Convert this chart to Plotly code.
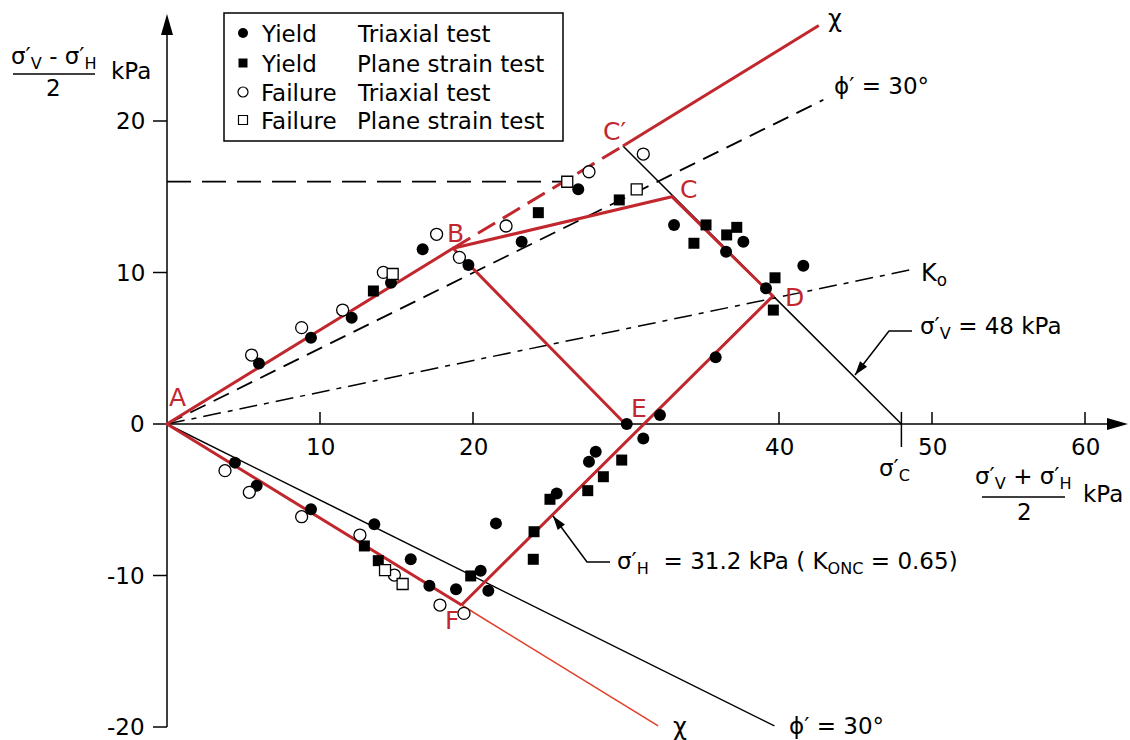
import plotly.graph_objects as go

# ---------------- data (kPa) ----------------
# Yield, triaxial test (filled circles): p' = (s'v+s'h)/2, q = (s'v-s'h)/2
tri_yield_p = [6.01, 9.41, 12.07, 14.64, 16.71, 19.70, 23.18, 26.88, 33.14, 37.67, 36.54, 39.15,
               41.59, 35.86, 32.22, 30.05, 31.13, 28.02, 27.58, 25.47, 21.50, 20.50, 21.00, 18.89,
               17.15, 15.93, 13.55, 9.41, 5.86, 4.44]
tri_yield_q = [4.00, 5.70, 7.02, 9.33, 11.53, 10.50, 12.03, 15.49, 13.14, 12.03, 11.37, 8.96,
               10.45, 4.40, 0.59, 0.00, -0.95, -1.83, -2.49, -4.58, -6.56, -9.68, -11.00, -10.91,
               -10.67, -8.93, -6.62, -5.63, -4.07, -2.55]
# Yield, plane strain test (filled squares)
ps_yield_p = [13.49, 24.27, 29.56, 35.23, 34.44, 37.24, 36.58, 39.74, 39.63, 29.72, 28.52, 27.50,
              25.03, 23.99, 23.94, 19.85, 12.90, 13.81]
ps_yield_q = [8.78, 13.95, 14.79, 13.14, 11.93, 12.98, 12.48, 9.65, 7.52, -2.38, -3.48, -4.40,
              -4.97, -7.11, -8.93, -10.03, -8.05, -9.02]
# Failure, triaxial test (open circles)
tri_fail_p = [5.53, 8.80, 11.48, 14.14, 17.62, 19.11, 22.16, 27.58, 31.13, 3.79, 5.38, 8.80,
              12.61, 14.86, 17.84, 19.41]
tri_fail_q = [4.55, 6.36, 7.52, 10.01, 12.52, 11.00, 13.07, 16.65, 17.82, -3.08, -4.51, -6.12,
              -7.33, -9.97, -11.95, -12.50]
# Failure, plane strain test (open squares)
ps_fail_p = [14.75, 26.16, 30.70, 14.25, 15.40]
ps_fail_q = [9.90, 15.99, 15.49, -9.64, -10.56]

legend_kind = ["Yield", "Yield", "Failure", "Failure"]
legend_test = ["Triaxial test", "Plane strain test", "Triaxial test", "Plane strain test"]

# key points of the yield locus / stress paths
pt_A = (0.0, 0.0)
pt_B = (18.7, 11.6)
pt_C = (33.0, 15.0)
pt_Cp = (29.8, 18.35)
pt_D = (39.6, 8.45)
pt_E = (29.95, 0.0)
pt_F = (19.25, -11.95)
chi_top_end = (42.6, 26.3)
chi_bot_end = (32.1, -19.93)
phi_top_end = (42.9, 21.4)
phi_bot_end = (39.7, -19.93)
k0_end = (48.7, 10.2)
sigma_c = 48.0
q_horiz = 16.0
q_horiz_end_p = 26.2

x_tick_vals = [10, 20, 40, 50, 60]
y_tick_vals = [20, 10, 0, -10, -20]

# ---------------- layout helpers ----------------
W, H = 1130, 740
X0PX, SX = 167.0, 15.3
Y0PX, SY = 424.0, 15.15


def dx(px):
    return (px - X0PX) / SX


def dy(py):
    return (Y0PX - py) / SY


def tx(x):
    return X0PX + x * SX


def ty(y):
    return Y0PX - y * SY


RED = "#c1272d"
RED2 = "#e2412c"
FONT = "DejaVu Sans"

fig = go.Figure()


def line(pts, color="black", width=1.5, dash=None):
    fig.add_trace(go.Scatter(x=[p[0] for p in pts], y=[p[1] for p in pts], mode="lines",
                             line=dict(color=color, width=width, dash=dash),
                             showlegend=False, hoverinfo="skip"))


# black reference lines
line([pt_A, phi_top_end], width=1.8, dash="17px,9px")
line([pt_A, k0_end], dash="18px,7px,5px,7px")
line([(0, q_horiz), (q_horiz_end_p, q_horiz)], width=1.7, dash="24px,11px")
line([pt_A, phi_bot_end])
line([pt_Cp, (sigma_c, 0)])

# red yield locus and paths
line([pt_F, chi_bot_end], color=RED2, width=1.6)
line([pt_F, pt_A, pt_B, pt_C, pt_D, pt_F], color=RED, width=3)
line([pt_B, pt_E], color=RED, width=3)
line([pt_Cp, chi_top_end], color=RED, width=3)
line([pt_B, pt_Cp], color=RED, width=3, dash="20px,9px")

mk_styles = [
    dict(symbol="circle", size=12, color="black"),
    dict(symbol="square", size=11, color="black"),
    dict(symbol="circle", size=12, color="white", line=dict(color="black", width=1.3)),
    dict(symbol="square", size=11, color="white", line=dict(color="black", width=1.3)),
]
series = [(tri_yield_p, tri_yield_q), (ps_yield_p, ps_yield_q),
          (tri_fail_p, tri_fail_q), (ps_fail_p, ps_fail_q)]
for (xs, ys), st, k, t in zip(series, mk_styles, legend_kind, legend_test):
    fig.add_trace(go.Scatter(x=xs, y=ys, mode="markers", name=f"{k} {t}", marker=st,
                             showlegend=False))

shapes = []
anns = []


def seg(x0, y0, x1, y1, width=1.5, color="black"):
    shapes.append(dict(type="line", xref="x", yref="y", x0=x0, y0=y0, x1=x1, y1=y1,
                       line=dict(color=color, width=width), layer="below"))


def tri_px(tip, frm, length, half):
    ux, uy = tip[0] - frm[0], tip[1] - frm[1]
    n = (ux ** 2 + uy ** 2) ** 0.5
    ux, uy = ux / n, uy / n
    bx, by = tip[0] - length * ux, tip[1] - length * uy
    nx, ny = -uy, ux
    pts = [tip, (bx + half * nx, by + half * ny), (bx - half * nx, by - half * ny)]
    path = "M " + " L ".join(f"{dx(p[0]):.4f},{dy(p[1]):.4f}" for p in pts) + " Z"
    shapes.append(dict(type="path", xref="x", yref="y", path=path, fillcolor="black",
                       line=dict(width=0), layer="above"))


def ann(text, px, py, size=23, color="black", xanchor="center", yanchor="middle"):
    anns.append(dict(text=text, x=dx(px), y=dy(py), xref="x", yref="y", showarrow=False,
                     xanchor=xanchor, yanchor=yanchor,
                     font=dict(family=FONT, size=size, color=color)))


# axes
seg(0, -20, 0, dy(32))
tri_px((tx(0), 14), (tx(0), 40), 21, 6)
seg(0, 0, dx(1108), 0)
tri_px((1128, ty(0)), (1100, ty(0)), 21, 6)
for v in x_tick_vals:
    seg(v, 0, v, dy(ty(0) - 12))
for v in y_tick_vals:
    seg(dx(tx(0) - 14), v, 0, v)
seg(sigma_c, dy(ty(0) - 12), sigma_c, dy(ty(0) + 23))


# leader arrows
def leader(pts_px):
    path = "M " + " L ".join(f"{dx(p[0]):.4f},{dy(p[1]):.4f}" for p in pts_px)
    shapes.append(dict(type="path", xref="x", yref="y", path=path,
                       line=dict(color="black", width=1.5), layer="above"))
    tri_px(pts_px[-1], pts_px[-2], 14, 4.5)


leader([(912, 331), (889, 331), (855, 375)])
leader([(610, 562), (587, 562), (553, 516)])

# axis label fraction bars
shapes.append(dict(type="line", xref="x", yref="y", x0=dx(13), x1=dx(95), y0=dy(74), y1=dy(74),
                   line=dict(color="black", width=1.5)))
shapes.append(dict(type="line", xref="x", yref="y", x0=dx(982), x1=dx(1065), y0=dy(497), y1=dy(497),
                   line=dict(color="black", width=1.5)))

# manual legend box (drawn below the traces so its symbols show)
shapes.append(dict(type="rect", xref="x", yref="y", x0=dx(224), x1=dx(563), y0=dy(13), y1=dy(141),
                   line=dict(color="black", width=1.5), fillcolor="white", layer="below"))
leg_rows = [33, 63, 92, 120]
leg_styles = [
    dict(symbol="circle", size=10, color="black"),
    dict(symbol="square", size=9, color="black"),
    dict(symbol="circle", size=10, color="white", line=dict(color="black", width=1.2)),
    dict(symbol="square", size=9, color="white", line=dict(color="black", width=1.2)),
]
for r, st, k, t in zip(leg_rows, leg_styles, legend_kind, legend_test):
    fig.add_trace(go.Scatter(x=[dx(243)], y=[dy(r)], mode="markers", marker=st,
                             showlegend=False, hoverinfo="skip"))
    ann(k, 259, r + 1, xanchor="left")
    ann(t, 355, r + 1, xanchor="left")

for v in x_tick_vals:
    ann(str(v), tx(v), 447)
for v in y_tick_vals:
    ann(str(v), 147, ty(v), xanchor="right")

# point labels
ann("A", 177, 397, size=25, color=RED)
ann("B", 455, 233, size=25, color=RED)
ann("C\u2032", 614, 131, size=25, color=RED)
ann("C", 688, 189, size=25, color=RED)
ann("D", 794, 297, size=25, color=RED)
ann("E", 639, 408, size=25, color=RED)
ann("F", 452, 620, size=25, color=RED)

ann("\u03c7", 835, 19, size=24)
ann("\u03c7", 680, 727, size=24)
ann("\u03d5\u2032 = 30\u00b0", 832, 86, xanchor="left")
ann("\u03d5\u2032 = 30\u00b0", 787, 726, xanchor="left")
ann("K<sub>o</sub>", 919, 274, size=24, xanchor="left")
ann("\u03c3\u2032<sub>V</sub> = 48 kPa", 918, 328, xanchor="left")
ann("\u03c3\u2032<sub>H</sub>  = 31.2 kPa ( K<sub>ONC</sub> = 0.65)", 615, 563, xanchor="left")
ann("\u03c3\u2032<sub>C</sub>", 894, 470)

# axis titles
ann("\u03c3\u2032<sub>V</sub> - \u03c3\u2032<sub>H</sub>", 54, 58)
ann("2", 53, 88)
ann("kPa", 131, 71)
ann("\u03c3\u2032<sub>V</sub> + \u03c3\u2032<sub>H</sub>", 1023, 478)
ann("2", 1024, 512)
ann("kPa", 1103, 494)

fig.update_layout(
    width=W, height=H, margin=dict(l=0, r=0, t=0, b=0),
    paper_bgcolor="white", plot_bgcolor="white",
    xaxis=dict(range=[dx(0), dx(W)], visible=False, fixedrange=True),
    yaxis=dict(range=[dy(H), dy(0)], visible=False, fixedrange=True),
    shapes=shapes, annotations=anns,
    showlegend=False,
    font=dict(family=FONT, color="black"),
)

fig.write_html("out.html", config=dict(displayModeBar=False))
